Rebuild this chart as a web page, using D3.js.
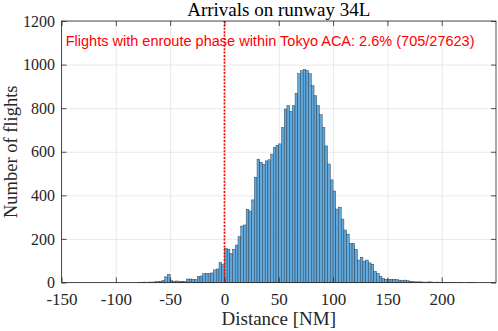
<!DOCTYPE html>
<html>
<head>
<meta charset="utf-8">
<script src="https://cdn.jsdelivr.net/npm/d3@7"></script>
<style>
  body { margin: 0; background: #fff; }
  svg { display: block; }
</style>
</head>
<body>
<script>
// histogram of distance (NM) at which the enroute phase ends, 2.5 NM bins starting at -80
var binStart = -80;
var binWidth = 2.5;
var counts = [
  1, 1, 2, 1, 2, 2, 3, 4, 6, 10, 26, 38, 8, 5, 7, 5,          // -80 .. -42.5
  6, 5, 16, 16, 15, 14, 28, 30, 40, 42, 40, 44, 58, 62, 92, 82, // -40 .. -2.5
  156, 153, 133, 153, 172, 210, 259, 264, 336, 328, 379, 483,  // 0 .. 27.5
  566, 552, 543, 558, 563, 589, 621, 630, 636, 711, 796, 812,  // 30 .. 57.5
  785, 811, 869, 958, 972, 977, 972, 958, 903, 857, 812, 770,  // 60 .. 87.5
  711, 627, 544, 471, 420, 337, 346, 291, 241, 222, 179, 179,  // 90 .. 117.5
  152, 103, 115, 98, 103, 90, 84, 52, 41, 29, 18, 15,          // 120 .. 147.5
  15, 14, 15, 14, 11, 9, 11, 8, 5, 4, 3, 3,                    // 150 .. 177.5
  3, 2, 2, 3, 2, 1, 2, 1, 1, 1, 1, 1,                          // 180 .. 207.5
  1, 0, 1, 1, 0, 1, 1, 1                                       // 210 .. 227.5
];
var xTicks = [-150, -100, -50, 0, 50, 100, 150, 200];
var yTicks = [0, 200, 400, 600, 800, 1000, 1200];
var xDomain = [-150, 250];
var yDomain = [0, 1200];
var markerX = 0;
var titleText = "Arrivals on runway 34L";
var noteText = "Flights with enroute phase within Tokyo ACA: 2.6% (705/27623)";
var xLabel = "Distance [NM]";
var yLabel = "Number of flights";

var width = 498, height = 331;
var margin = {top: 21, right: 2, bottom: 48.5, left: 61.5};
var plotW = width - margin.left - margin.right;
var plotH = height - margin.top - margin.bottom;
var serif = "'Liberation Serif', 'Times New Roman', serif";
var tickColor = "#262626";

var bins = counts.map(function (c, i) {
    return {x0: binStart + i * binWidth, x1: binStart + (i + 1) * binWidth, n: c};
});

var svg = d3.select("body").append("svg")
            .attr("width", width)
            .attr("height", height);

var x = d3.scaleLinear().domain(xDomain).range([0, plotW]);
var y = d3.scaleLinear().domain(yDomain).range([plotH, 0]);
var plainNum = function (d) { return String(d); };

var g = svg.append("g").attr("transform", "translate(" + margin.left + "," + margin.top + ")");

// grid
g.append("g")
 .attr("class", "grid")
 .attr("transform", "translate(0," + plotH + ")")
 .call(d3.axisBottom(x).tickValues(xTicks).tickSize(-plotH).tickFormat(""));
g.append("g")
 .attr("class", "grid")
 .call(d3.axisLeft(y).tickValues(yTicks).tickSize(-plotW).tickFormat(""));
g.selectAll(".grid line").attr("stroke", "#e3e3e3").attr("stroke-width", 0.8);
g.selectAll(".grid .domain").remove();

// bars
g.append("g")
 .selectAll("rect")
 .data(bins.filter(function (d) { return d.n > 0; }))
 .enter().append("rect")
 .attr("x", function (d) { return x(d.x0); })
 .attr("y", function (d) { return y(d.n); })
 .attr("width", function (d) { return x(d.x1) - x(d.x0); })
 .attr("height", function (d) { return y(0) - y(d.n); })
 .attr("fill", "#5fa9de")
 .attr("stroke", "#24313d")
 .attr("stroke-width", 0.42);

// marker at 0
g.append("line")
 .attr("x1", x(markerX)).attr("x2", x(markerX))
 .attr("y1", 0).attr("y2", plotH)
 .attr("stroke", "#ff0000")
 .attr("stroke-width", 1.6)
 .attr("stroke-dasharray", "2,1.4");

// axes, ticks inside on all four sides
var xAxis = g.append("g")
             .attr("class", "axis")
             .attr("transform", "translate(0," + plotH + ")")
             .call(d3.axisBottom(x).tickValues(xTicks).tickSize(-5).tickPadding(13)
                     .tickSizeOuter(0).tickFormat(plainNum));
var yAxis = g.append("g")
             .attr("class", "axis")
             .call(d3.axisLeft(y).tickValues(yTicks).tickSize(-5).tickPadding(6.5)
                     .tickSizeOuter(0).tickFormat(plainNum));
g.append("g")
 .attr("class", "axis")
 .call(d3.axisTop(x).tickValues(xTicks).tickSize(-5).tickFormat("").tickSizeOuter(0));
g.append("g")
 .attr("class", "axis")
 .attr("transform", "translate(" + plotW + ",0)")
 .call(d3.axisRight(y).tickValues(yTicks).tickSize(-5).tickFormat("").tickSizeOuter(0));
g.selectAll(".axis").attr("font-family", null).attr("font-size", null);
g.selectAll(".axis .domain").remove();
g.selectAll(".axis line").attr("stroke", tickColor).attr("stroke-width", 0.8);
g.selectAll(".axis text")
 .attr("fill", tickColor)
 .style("font-family", serif)
 .style("font-size", "17px");
yAxis.selectAll("text").style("font-size", "16px");
xAxis.selectAll("text").attr("dy", "0.55em");

g.append("rect")
 .attr("width", plotW)
 .attr("height", plotH)
 .attr("fill", "none")
 .attr("stroke", tickColor)
 .attr("stroke-width", 0.8);

// note text
var note = g.append("text")
            .attr("x", 4.2)
            .attr("y", 25)
            .attr("fill", "#ff0000")
            .style("font-family", "'Liberation Sans', Arial, sans-serif")
            .style("font-size", "14px")
            .text(noteText);
var noteLen = note.node().getComputedTextLength();
note.style("font-size", (14 * 409 / noteLen) + "px");

// titles
svg.append("text")
   .attr("x", margin.left + plotW / 2)
   .attr("y", 16)
   .attr("text-anchor", "middle")
   .style("font-family", serif)
   .style("font-size", "19px")
   .attr("fill", "#000")
   .text(titleText);

svg.append("text")
   .attr("x", margin.left + plotW / 2)
   .attr("y", 325)
   .attr("text-anchor", "middle")
   .style("font-family", serif)
   .style("font-size", "19px")
   .attr("fill", tickColor)
   .text(xLabel);

svg.append("text")
   .attr("transform", "translate(16.5," + (margin.top + plotH / 2) + ") rotate(-90)")
   .attr("text-anchor", "middle")
   .style("font-family", serif)
   .style("font-size", "18.5px")
   .attr("fill", tickColor)
   .text(yLabel);
</script>
</body>
</html>
